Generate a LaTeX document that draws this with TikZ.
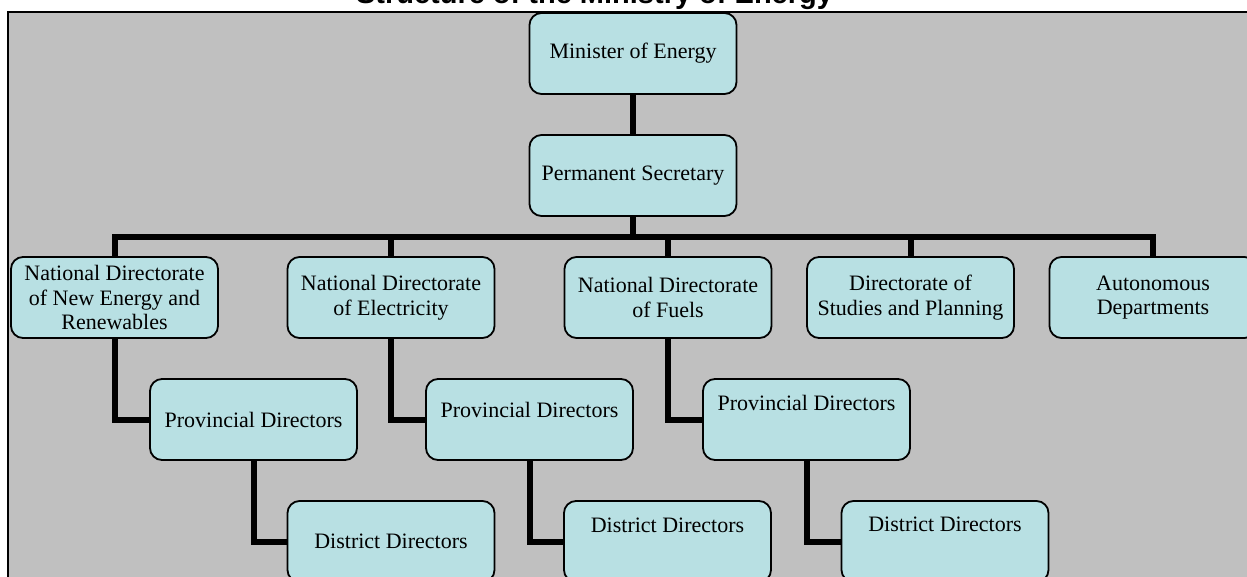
\documentclass[tikz,border=0pt]{standalone}
\usepackage{fontspec}
\setmainfont{Liberation Serif}
\newfontfamily\headfont{Liberation Sans}
\usepackage{tikz}
\definecolor{boxfill}{RGB}{184,224,227}
\definecolor{panel}{RGB}{192,192,192}

\begin{document}
\begin{tikzpicture}[x=1pt,y=-1pt,
  unit/.style={draw,rounded corners=12pt,fill=boxfill,line width=1.8pt,
    minimum width=207pt,minimum height=81pt,inner sep=2pt,align=center,
    font=\fontsize{22}{24.5}\selectfont},
  link/.style={line width=6pt},
  lifted/.style={text depth=#1}]
  \useasboundingbox (0,0) rectangle (1247,577);
  \clip (0,0) rectangle (1247,577);
  \fill[panel] (8,12) rectangle (1260,600);
  \draw[line width=1.5pt] (8,600) -- (8,12) -- (1260,12);
  \node[anchor=base,font=\headfont\bfseries\fontsize{29}{32}\selectfont] (T) at (594.5,4) {Structure of the Ministry of Energy};

  \node[unit] (Min) at (633,53.5) {Minister of Energy};
  \node[unit] (Sec) at (633,175.5) {Permanent Secretary};
  \coordinate (bus) at (633,237);

  \node[unit] (N-1) at (114.5,297.5) {National Directorate\\of New Energy and\\Renewables};
  \node[unit] (N-2) at (391,297.5) {National Directorate\\of Electricity};
  \node[unit] (N-3) at (668,297.5) {National Directorate\\of Fuels};
  \node[unit] (N-4) at (910.5,297.5) {Directorate of\\Studies and Planning};
  \node[unit] (N-5) at (1153,297.5) {Autonomous\\Departments};

  \node[unit] (P-1) at (253.5,419.5) {Provincial Directors};
  \node[unit,lifted=20pt] (P-2) at (529.5,419.5) {Provincial Directors};
  \node[unit,lifted=34pt] (P-3) at (806.5,419.5) {Provincial Directors};

  \node[unit] (D-1) at (391,541.5) {District Directors};
  \node[unit,lifted=32pt] (D-2) at (667.5,541.5) {District Directors};
  \node[unit,lifted=34pt] (D-3) at (945,541.5) {District Directors};

  \draw[link] (Min) -- (Sec);
  \draw[link] (Sec) -- (bus);
  \foreach \n in {1,...,5}
    \draw[link] (bus) -| (N-\n);
  \foreach \n in {1,2,3} {
    \draw[link] (N-\n) |- (P-\n);
    \draw[link] (P-\n) |- (D-\n);
  }
\end{tikzpicture}
\end{document}
